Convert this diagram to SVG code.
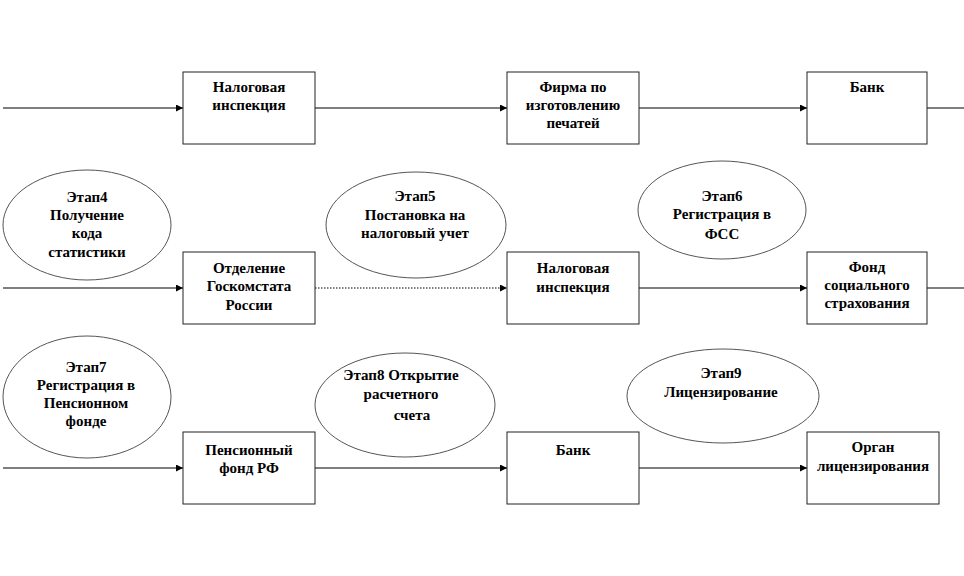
<svg xmlns="http://www.w3.org/2000/svg" width="964" height="576" viewBox="0 0 964 576">
<defs>
<marker id="arr" viewBox="0 0 8 8" refX="8" refY="4" markerWidth="7" markerHeight="7" markerUnits="userSpaceOnUse" orient="auto">
<path d="M0,0 L8,4 L0,8 Z" fill="#000"/>
</marker>
<style>
.box{fill:#fff;stroke:#222;stroke-width:1}
.ell{fill:#fff;stroke:#555;stroke-width:1}
.ln{fill:none;stroke:#000;stroke-width:1.2}
.dot{fill:none;stroke:#000;stroke-width:1.2;stroke-dasharray:1.5 1.5}
text{font-weight:bold;font-size:15px;text-anchor:middle;fill:#000}
</style>
</defs>
<rect width="964" height="576" fill="#fff"/>
<g id="connectors">
<line class="ln" x1="3" y1="108" x2="183" y2="108" marker-end="url(#arr)"/>
<line class="ln" x1="315" y1="108" x2="507" y2="108" marker-end="url(#arr)"/>
<line class="ln" x1="639" y1="108" x2="807" y2="108" marker-end="url(#arr)"/>
<line class="ln" x1="927" y1="108" x2="964" y2="108"/>
<line class="ln" x1="3" y1="288" x2="183" y2="288" marker-end="url(#arr)"/>
<line class="dot" x1="315" y1="288" x2="507" y2="288" marker-end="url(#arr)"/>
<line class="ln" x1="639" y1="288" x2="807" y2="288" marker-end="url(#arr)"/>
<line class="ln" x1="927" y1="288" x2="964" y2="288"/>
<line class="ln" x1="3" y1="468" x2="183" y2="468" marker-end="url(#arr)"/>
<line class="ln" x1="315" y1="468" x2="507" y2="468" marker-end="url(#arr)"/>
<line class="ln" x1="639" y1="468" x2="807" y2="468" marker-end="url(#arr)"/>
</g>
<g font-family="'Liberation Serif', 'DejaVu Serif', serif">
<g id="n_nalog1"><rect class="box" x="183" y="72" width="132" height="72"/><text x="249" y="92">Налоговая</text><text x="249" y="110">инспекция</text></g>
<g id="n_firma"><rect class="box" x="507" y="72" width="132" height="72"/><text x="573" y="92">Фирма по</text><text x="573" y="110">изготовлению</text><text x="573" y="128">печатей</text></g>
<g id="n_bank1"><rect class="box" x="807" y="72" width="120" height="72"/><text x="867" y="92">Банк</text></g>
<g id="e4"><ellipse class="ell" cx="87" cy="225" rx="84" ry="55"/><text x="87" y="202">Этап4</text><text x="87" y="220">Получение</text><text x="87" y="238">кода</text><text x="87" y="257">статистики</text></g>
<g id="e5"><ellipse class="ell" cx="416" cy="225" rx="90" ry="53"/><text x="415" y="201">Этап5</text><text x="415" y="220">Постановка на</text><text x="415" y="238">налоговый учет</text></g>
<g id="e6"><ellipse class="ell" cx="722" cy="210" rx="84" ry="49"/><text x="722" y="201">Этап6</text><text x="722" y="219">Регистрация в</text><text x="722" y="239">ФСС</text></g>
<g id="n_goskom"><rect class="box" x="183" y="252" width="132" height="72"/><text x="249" y="273">Отделение</text><text x="249" y="291">Госкомстата</text><text x="249" y="310">России</text></g>
<g id="n_nalog2"><rect class="box" x="507" y="252" width="132" height="72"/><text x="573" y="273">Налоговая</text><text x="573" y="292">инспекция</text></g>
<g id="n_fss"><rect class="box" x="807" y="252" width="120" height="72"/><text x="867" y="272">Фонд</text><text x="867" y="290">социального</text><text x="867" y="308">страхования</text></g>
<g id="e7"><ellipse class="ell" cx="87" cy="397" rx="84" ry="61"/><text x="86" y="372">Этап7</text><text x="86" y="390">Регистрация в</text><text x="86" y="408">Пенсионном</text><text x="86" y="426">фонде</text></g>
<g id="e8"><ellipse class="ell" cx="405" cy="405" rx="90" ry="52"/><text x="401" y="380">Этап8 Открытие</text><text x="401" y="399">расчетного</text><text x="412" y="420">счета</text></g>
<g id="e9"><ellipse class="ell" cx="723" cy="396" rx="96" ry="47"/><text x="721" y="378">Этап9</text><text x="721" y="397">Лицензирование</text></g>
<g id="n_pfr"><rect class="box" x="183" y="432" width="132" height="72"/><text x="249" y="455">Пенсионный</text><text x="249" y="473">фонд РФ</text></g>
<g id="n_bank2"><rect class="box" x="507" y="432" width="132" height="72"/><text x="573" y="455">Банк</text></g>
<g id="n_organ"><rect class="box" x="807" y="432" width="132" height="72"/><text x="873" y="452">Орган</text><text x="873" y="471">лицензирования</text></g>
</g>
</svg>
